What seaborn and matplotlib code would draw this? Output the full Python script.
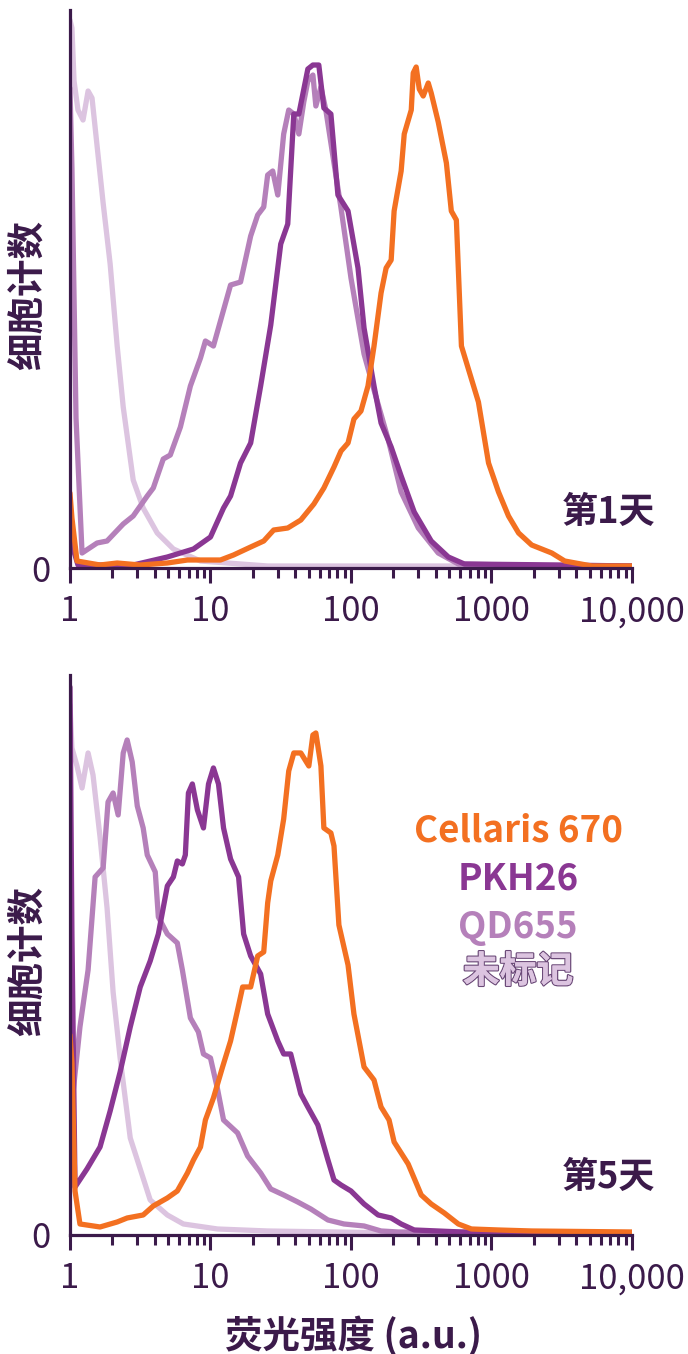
import numpy as np
import pandas as pd
import matplotlib.pyplot as plt
import matplotlib.ticker as mticker
import matplotlib.patheffects as pe
import seaborn as sns

# ---- data: log10(intensity) positions and relative cell counts ----
# Day 1
d1_unl_lx = [0.0, 0.014, 0.029, 0.057, 0.093, 0.129, 0.157, 0.193, 0.236, 0.286, 0.336, 0.379,
             0.45, 0.521, 0.621, 0.736, 0.929, 1.407, 4.0]
d1_unl_y = [548, 540, 487, 458, 448, 477, 470, 422, 365, 304, 222, 161, 88, 60, 35, 19, 7, 2, 2]

d1_qd_lx = [0.0, 0.014, 0.043, 0.086, 0.193, 0.264, 0.379, 0.45, 0.55, 0.593, 0.664, 0.714, 0.786,
            0.857, 0.929, 0.964, 1.021, 1.071, 1.143, 1.214, 1.286, 1.336, 1.379, 1.407, 1.443,
            1.479, 1.521, 1.557, 1.593, 1.629, 1.664, 1.693, 1.729, 1.75, 1.786, 1.821, 1.879,
            1.929, 2.0, 2.093, 2.164, 2.264, 2.357, 2.479, 2.621, 2.764, 3.5, 4.0]
d1_qd_y = [480, 400, 150, 15, 25, 27, 44, 52, 72, 80, 109, 113, 141, 182, 210, 227, 222, 247, 283,
           286, 332, 353, 361, 393, 397, 373, 434, 458, 454, 434, 466, 487, 493, 462, 481, 458, 405,
           360, 290, 214, 178, 129, 76, 40, 15, 4, 2, 2]

d1_pkh_lx = [0.0, 0.021, 0.057, 0.45, 0.693, 0.879, 1.0, 1.093, 1.143, 1.214, 1.286, 1.357, 1.429,
             1.5, 1.55, 1.593, 1.629, 1.693, 1.729, 1.771, 1.807, 1.857, 1.907, 1.979, 2.05, 2.093,
             2.164, 2.214, 2.286, 2.357, 2.45, 2.571, 2.693, 2.807, 3.5, 4.0]
d1_pkh_y = [35, 20, 3, 3, 11, 19, 31, 60, 72, 105, 125, 182, 243, 324, 344, 454, 454, 499, 503, 503,
            460, 454, 373, 357, 300, 240, 182, 145, 121, 92, 56, 27, 11, 4, 3, 2]

d1_cel_lx = [0.0, 0.014, 0.05, 0.214, 0.336, 0.5, 0.693, 0.836, 1.071, 1.164, 1.286, 1.379, 1.45,
             1.55, 1.643, 1.736, 1.807, 1.879, 1.929, 1.979, 2.021, 2.071, 2.121, 2.164, 2.214, 2.25,
             2.286, 2.307, 2.357, 2.379, 2.429, 2.443, 2.464, 2.486, 2.514, 2.55, 2.571, 2.621,
             2.679, 2.714, 2.75, 2.786, 2.907, 2.979, 3.05, 3.121, 3.193, 3.286, 3.429, 3.521,
             3.714, 4.0]
d1_cel_y = [75, 50, 7, 3, 5, 3, 5, 8, 8, 13, 21, 27, 38, 40, 48, 64, 80, 101, 117, 125, 149, 157,
            182, 222, 275, 300, 308, 357, 397, 434, 458, 495, 501, 479, 472, 485, 475, 446, 405,
            357, 348, 222, 166, 105, 76, 52, 35, 23, 15, 7, 2, 2]

# Day 5
d5_unl_lx = [0.0, 0.014, 0.05, 0.086, 0.129, 0.164, 0.214, 0.264, 0.307, 0.357, 0.429, 0.5, 0.571,
             0.693, 0.807, 1.05, 1.407, 2.357, 4.0]
d5_unl_y = [530, 487, 469, 447, 482, 460, 398, 327, 243, 177, 97, 66, 35, 20, 11, 6, 4, 2, 2]

d5_qd_lx = [0.0, 0.021, 0.071, 0.129, 0.179, 0.236, 0.271, 0.307, 0.343, 0.379, 0.407, 0.443, 0.479,
            0.521, 0.55, 0.607, 0.629, 0.693, 0.764, 0.8, 0.857, 0.914, 0.95, 1.0, 1.05, 1.093,
            1.193, 1.264, 1.357, 1.429, 1.521, 1.621, 1.714, 1.836, 1.95, 2.093, 2.214, 2.336, 4.0]
d5_qd_y = [100, 141, 208, 265, 358, 367, 433, 442, 420, 482, 495, 473, 429, 407, 380, 363, 318, 301,
           292, 265, 217, 203, 181, 177, 146, 115, 102, 79, 62, 46, 40, 33, 26, 15, 11, 9, 4, 3, 2]

d5_pkh_lx = [0.0, 0.014, 0.036, 0.121, 0.214, 0.286, 0.357, 0.429, 0.5, 0.571, 0.629, 0.693, 0.736,
             0.764, 0.8, 0.821, 0.843, 0.871, 0.907, 0.95, 0.986, 1.021, 1.057, 1.093, 1.143, 1.2,
             1.236, 1.286, 1.357, 1.407, 1.479, 1.521, 1.571, 1.643, 1.693, 1.764, 1.836, 1.879,
             1.929, 2.0, 2.093, 2.193, 2.286, 2.357, 2.45, 2.786, 4.0]
d5_pkh_y = [548, 300, 48, 66, 88, 124, 163, 208, 248, 274, 301, 349, 358, 374, 371, 380, 442, 451,
            425, 407, 451, 467, 451, 407, 376, 358, 301, 279, 261, 221, 194, 181, 181, 141, 128,
            110, 75, 55, 50, 44, 31, 20, 17, 11, 5, 3, 2]

d5_cel_lx = [0.0, 0.014, 0.036, 0.071, 0.214, 0.336, 0.407, 0.521, 0.593, 0.693, 0.764, 0.836,
             0.879, 0.929, 0.964, 1.021, 1.086, 1.143, 1.193, 1.229, 1.286, 1.336, 1.379, 1.407,
             1.429, 1.479, 1.521, 1.557, 1.593, 1.643, 1.7, 1.729, 1.75, 1.786, 1.807, 1.857,
             1.879, 1.914, 1.979, 2.021, 2.093, 2.164, 2.214, 2.271, 2.307, 2.407, 2.5, 2.571,
             2.664, 2.764, 2.857, 3.05, 3.286, 4.0]
d5_cel_y = [200, 172, 44, 11, 8, 13, 17, 20, 29, 37, 44, 62, 75, 88, 115, 137, 168, 194, 225, 248,
            248, 279, 283, 332, 354, 380, 416, 464, 482, 482, 469, 500, 502, 469, 407, 402, 389,
            310, 270, 221, 168, 155, 128, 115, 93, 71, 40, 31, 22, 11, 6, 5, 4, 3]

tick_vals = [1, 10, 100, 1000, 10000]
tick_labels = ["1", "10", "100", "1000", "10,000"]
series_names = ["Cellaris 670", "PKH26", "QD655", "未标记"]

# ---- style ----
DARK = "#3b1a4a"
COLORS = {"未标记": "#dcc4e0", "QD655": "#b580ba", "PKH26": "#8a3793", "Cellaris 670": "#f37021"}

sns.set_theme(style="white")
plt.rcParams["font.family"] = ["Noto Sans CJK SC", "DejaVu Sans"]
plt.rcParams["text.color"] = DARK

fig = plt.figure(figsize=(6.88, 13.54), dpi=100)
ax1 = fig.add_axes([0.1017, 0.5805, 0.8169, 0.4121])
ax2 = fig.add_axes([0.1017, 0.0879, 0.8169, 0.4136])

panels = [
    (ax1, [("未标记", d1_unl_lx, d1_unl_y), ("QD655", d1_qd_lx, d1_qd_y),
           ("PKH26", d1_pkh_lx, d1_pkh_y), ("Cellaris 670", d1_cel_lx, d1_cel_y)],
     "第1天", 558, 0.1, 0.49),
    (ax2, [("未标记", d5_unl_lx, d5_unl_y), ("QD655", d5_qd_lx, d5_qd_y),
           ("PKH26", d5_pkh_lx, d5_pkh_y), ("Cellaris 670", d5_cel_lx, d5_cel_y)],
     "第5天", 560, 0.102, 0.49),
]

for ax, series, day, ymax, day_y, lab_y in panels:
    ax.set_xscale("log")
    for name, lx, y in series:
        df = pd.DataFrame({"x": 10 ** np.array(lx), "y": y})
        sns.lineplot(data=df, x="x", y="y", ax=ax, color=COLORS[name], linewidth=3.8,
                     sort=False, estimator=None, solid_capstyle="round", solid_joinstyle="round")
    ax.set_xlim(1, 10000)
    ax.set_ylim(0, ymax)
    for s in ["top", "right"]:
        ax.spines[s].set_visible(False)
    for s in ["left", "bottom"]:
        ax.spines[s].set_color(DARK)
        ax.spines[s].set_linewidth(2.3)
    ax.xaxis.set_major_locator(mticker.FixedLocator(tick_vals))
    ax.xaxis.set_major_formatter(mticker.FixedFormatter(tick_labels))
    ax.xaxis.set_minor_locator(mticker.LogLocator(base=10, subs=np.arange(2, 10)))
    ax.xaxis.set_minor_formatter(mticker.NullFormatter())
    ax.tick_params(axis="x", which="major", direction="out", length=11, width=2.2, color=DARK,
                   labelsize=25, labelcolor=DARK, pad=8, bottom=True)
    ax.tick_params(axis="x", which="minor", direction="out", length=7, width=2.2, color=DARK,
                   bottom=True)
    ax.set_yticks([0])
    ax.set_yticklabels(["0"])
    ax.tick_params(axis="y", length=0, labelsize=25, labelcolor=DARK, pad=14)
    ax.set_xlabel("")
    ax.set_ylabel("细胞计数", fontsize=27, fontweight="bold", color=DARK)
    ax.yaxis.set_label_coords(-0.042, lab_y)
    ax.text(0.958, day_y, day, transform=ax.transAxes, ha="center", va="center",
            fontsize=26, fontweight="bold", color=DARK)

# legend as coloured words
leg_y = [831, 879, 927, 972]
for name, py in zip(series_names, leg_y):
    t = fig.text(518 / 688, 1 - py / 1354, name, ha="center", va="center", fontsize=26.5,
                 fontweight="bold", color=COLORS[name])
    if name == "未标记":
        t.set_path_effects([pe.withStroke(linewidth=1.8, foreground="#6b4a78"), pe.Normal()])

fig.text(354 / 688, 1 - 1336 / 1354, "荧光强度 (a.u.)", ha="center", va="center",
         fontsize=27, fontweight="bold", color=DARK)

fig.savefig("out.png", dpi=100)
